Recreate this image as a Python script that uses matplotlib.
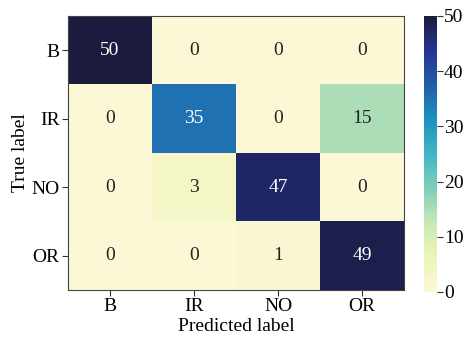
import numpy as np
import matplotlib
matplotlib.use("Agg")
import matplotlib.pyplot as plt
from matplotlib.colors import LinearSegmentedColormap

plt.rcParams['font.family'] = ['Liberation Serif', 'DejaVu Serif']

classes = ["B", "IR", "NO", "OR"]
cm = np.array([
    [50, 0, 0, 0],
    [0, 35, 0, 15],
    [0, 3, 47, 0],
    [0, 0, 1, 49],
])

# yellow-green-blue ramp ending in a deep navy
cmap = LinearSegmentedColormap.from_list(
    "ylgnbu_navy",
    ["#fcf8d6", "#edf5b9", "#c7e9b4", "#7fcdbb", "#41b6c4",
     "#1d91c0", "#225ea8", "#253494", "#1b1b3e"])

fig = plt.figure(figsize=(4.67, 3.40), dpi=100)
ax = fig.add_axes([68/467, 1 - 290/340, (404-68)/467, (290-16)/340])
cax = fig.add_axes([424/467, 1 - 292/340, 13/467, (292-16)/340])

im = ax.imshow(cm, cmap=cmap, vmin=0, vmax=50, aspect="auto")
fs = 14
for i in range(cm.shape[0]):
    for j in range(cm.shape[1]):
        v = cm[i, j]
        ax.text(j, i, str(v), ha="center", va="center", fontsize=fs,
                color="white" if v > 25 else "#222222")

ax.set_xticks(range(len(classes)))
ax.set_yticks(range(len(classes)))
ax.set_xticklabels(classes, fontsize=fs)
ax.set_yticklabels(classes, fontsize=fs)
ax.set_xlabel("Predicted label", fontsize=fs, labelpad=2)
ax.set_ylabel("True label", fontsize=fs, labelpad=2)
ax.tick_params(length=4, color="#333333", pad=2)
for s in ax.spines.values():
    s.set_color("#444444")

cb = fig.colorbar(im, cax=cax, ticks=[0, 10, 20, 30, 40, 50])
cb.ax.tick_params(labelsize=fs, length=4, color="#333333", pad=1)
cb.outline.set_visible(False)

fig.savefig("out.png", dpi=100)
